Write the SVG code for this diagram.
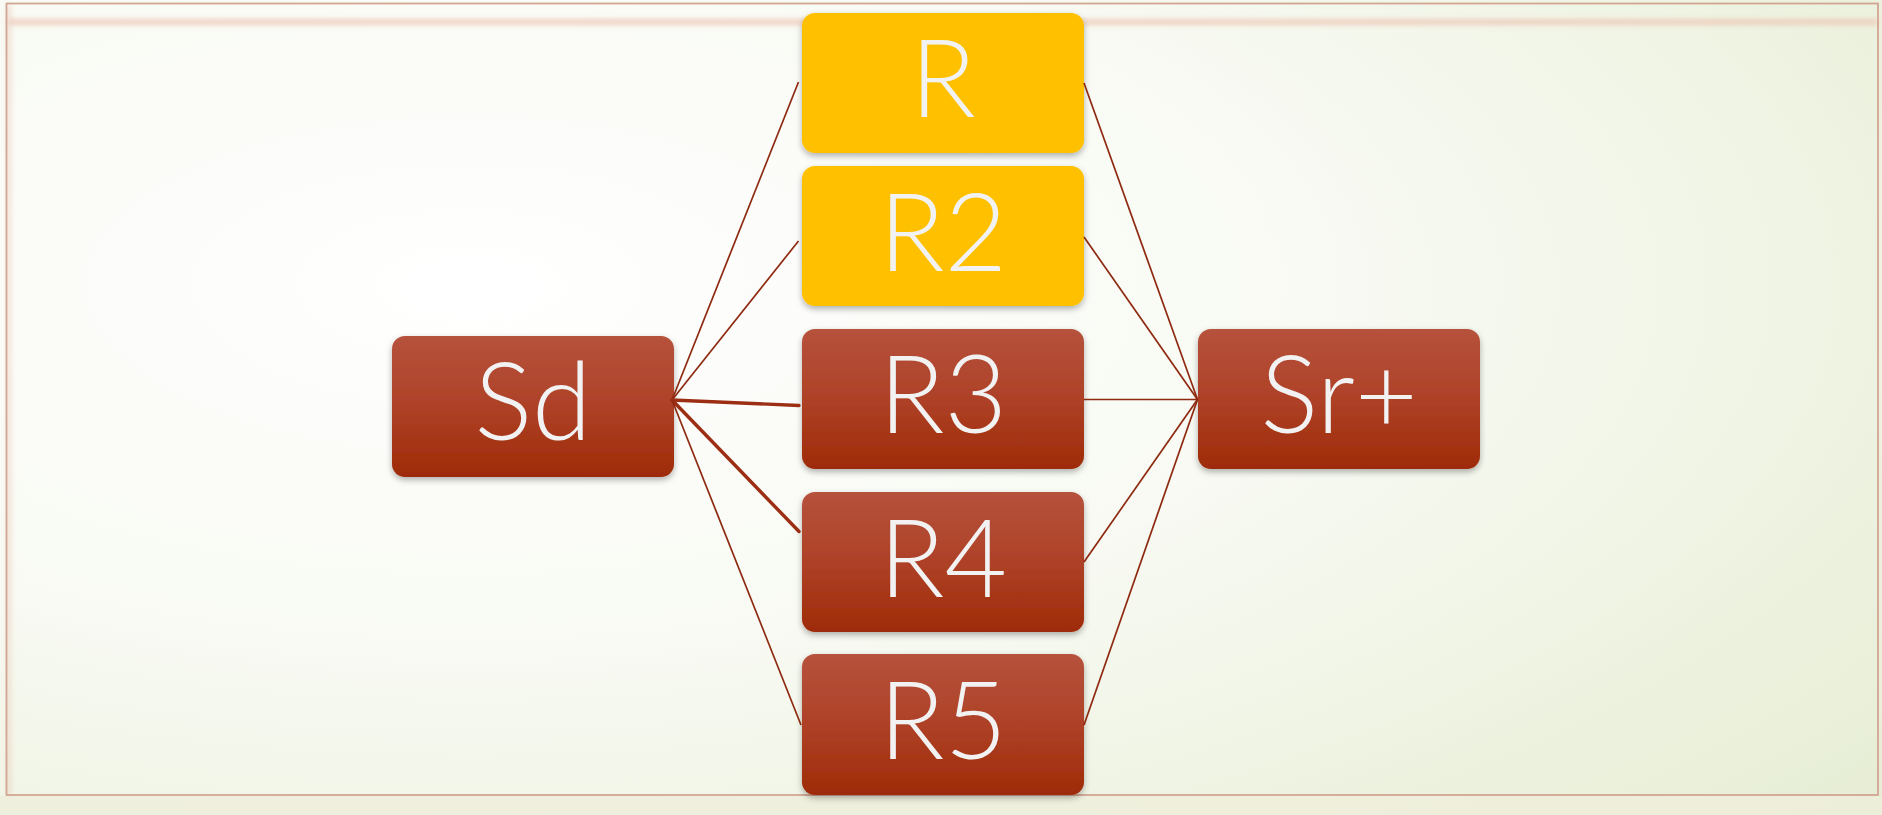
<svg xmlns="http://www.w3.org/2000/svg" width="1882" height="815" viewBox="0 0 1882 815">
<defs>
<radialGradient id="bg" cx="0.25" cy="0.35" r="1.0" gradientUnits="objectBoundingBox">
<stop offset="0" stop-color="#FFFFFF"/>
<stop offset="0.45" stop-color="#F8FAF3"/>
<stop offset="1" stop-color="#E6EDD3"/>
</radialGradient>
<linearGradient id="red" x1="0" y1="0" x2="0" y2="1">
<stop offset="0" stop-color="#B6523C"/>
<stop offset="0.5" stop-color="#AE4127"/>
<stop offset="1" stop-color="#9E2B07"/>
</linearGradient>
<filter id="sh" x="-10%" y="-10%" width="120%" height="130%">
<feDropShadow dx="0" dy="3" stdDeviation="3" flood-color="#000" flood-opacity="0.3"/>
</filter>
<filter id="blur" filterUnits="userSpaceOnUse" x="0" y="0" width="1882" height="815">
<feGaussianBlur stdDeviation="2.5"/>
</filter>
</defs>
<style>
.red{fill:url(#red);filter:url(#sh)}
.yel{fill:#FFC000;filter:url(#sh)}
.lbl{font-family:Lato,"Noto Sans",sans-serif;font-weight:300;font-size:108px;fill:#F2F2F2;text-anchor:middle}
.thin{stroke:#8E2A10;stroke-width:1.7;fill:none}
.thick{stroke:#9C2E14;stroke-width:3.4;fill:none;stroke-linecap:round}
</style>
<rect x="0" y="0" width="1882" height="815" fill="#EDEBD6"/>
<rect x="0" y="0" width="1882" height="815" fill="url(#bg)"/>
<rect x="0" y="796" width="1882" height="19" fill="#EFEEDB" opacity="0.8"/>
<g id="frame">
<rect x="8" y="19" width="1870" height="6" fill="#ECC8B6" filter="url(#blur)" opacity="0.8"/>
<rect x="7" y="5" width="4" height="790" fill="#EBC9B8" filter="url(#blur)" opacity="0.6"/>
<rect x="6.5" y="3.5" width="1871.5" height="791.5" fill="none" stroke="#D3A593" stroke-width="1.8"/>
</g>
<g id="node-Sd"><rect class="red" x="392" y="336" width="282" height="141" rx="13"/><text class="lbl" x="533" y="440">Sd</text></g>
<g id="node-R"><rect class="yel" x="802" y="13" width="282" height="140" rx="13"/><text class="lbl" x="943" y="117">R</text></g>
<g id="node-R2"><rect class="yel" x="802" y="166" width="282" height="140" rx="13"/><text class="lbl" x="943" y="271">R2</text></g>
<g id="node-R3"><rect class="red" x="802" y="329" width="282" height="140" rx="13"/><text class="lbl" x="943" y="433">R3</text></g>
<g id="node-R4"><rect class="red" x="802" y="492" width="282" height="140" rx="13"/><text class="lbl" x="943" y="597">R4</text></g>
<g id="node-R5"><rect class="red" x="802" y="654" width="282" height="141" rx="13"/><text class="lbl" x="943" y="759">R5</text></g>
<g id="node-Srp"><rect class="red" x="1198" y="329" width="282" height="140" rx="13"/><text class="lbl" x="1339" y="433">Sr+</text></g>
<g id="connectors">
<line class="thin" x1="672" y1="400" x2="798.5" y2="82"/>
<line class="thin" x1="672" y1="400" x2="798.5" y2="241"/>
<line class="thick" x1="672" y1="400" x2="799" y2="405.5"/>
<line class="thick" x1="672" y1="400" x2="799" y2="531.5"/>
<line class="thin" x1="672" y1="400" x2="801" y2="725"/>
<line class="thin" x1="1084" y1="83" x2="1197.5" y2="399.5"/>
<line class="thin" x1="1084" y1="237" x2="1197.5" y2="399.5"/>
<line class="thin" x1="1084" y1="399.5" x2="1197.5" y2="399.5"/>
<line class="thin" x1="1084" y1="562" x2="1197.5" y2="399.5"/>
<line class="thin" x1="1084" y1="725" x2="1197.5" y2="399.5"/>
</g>
</svg>
